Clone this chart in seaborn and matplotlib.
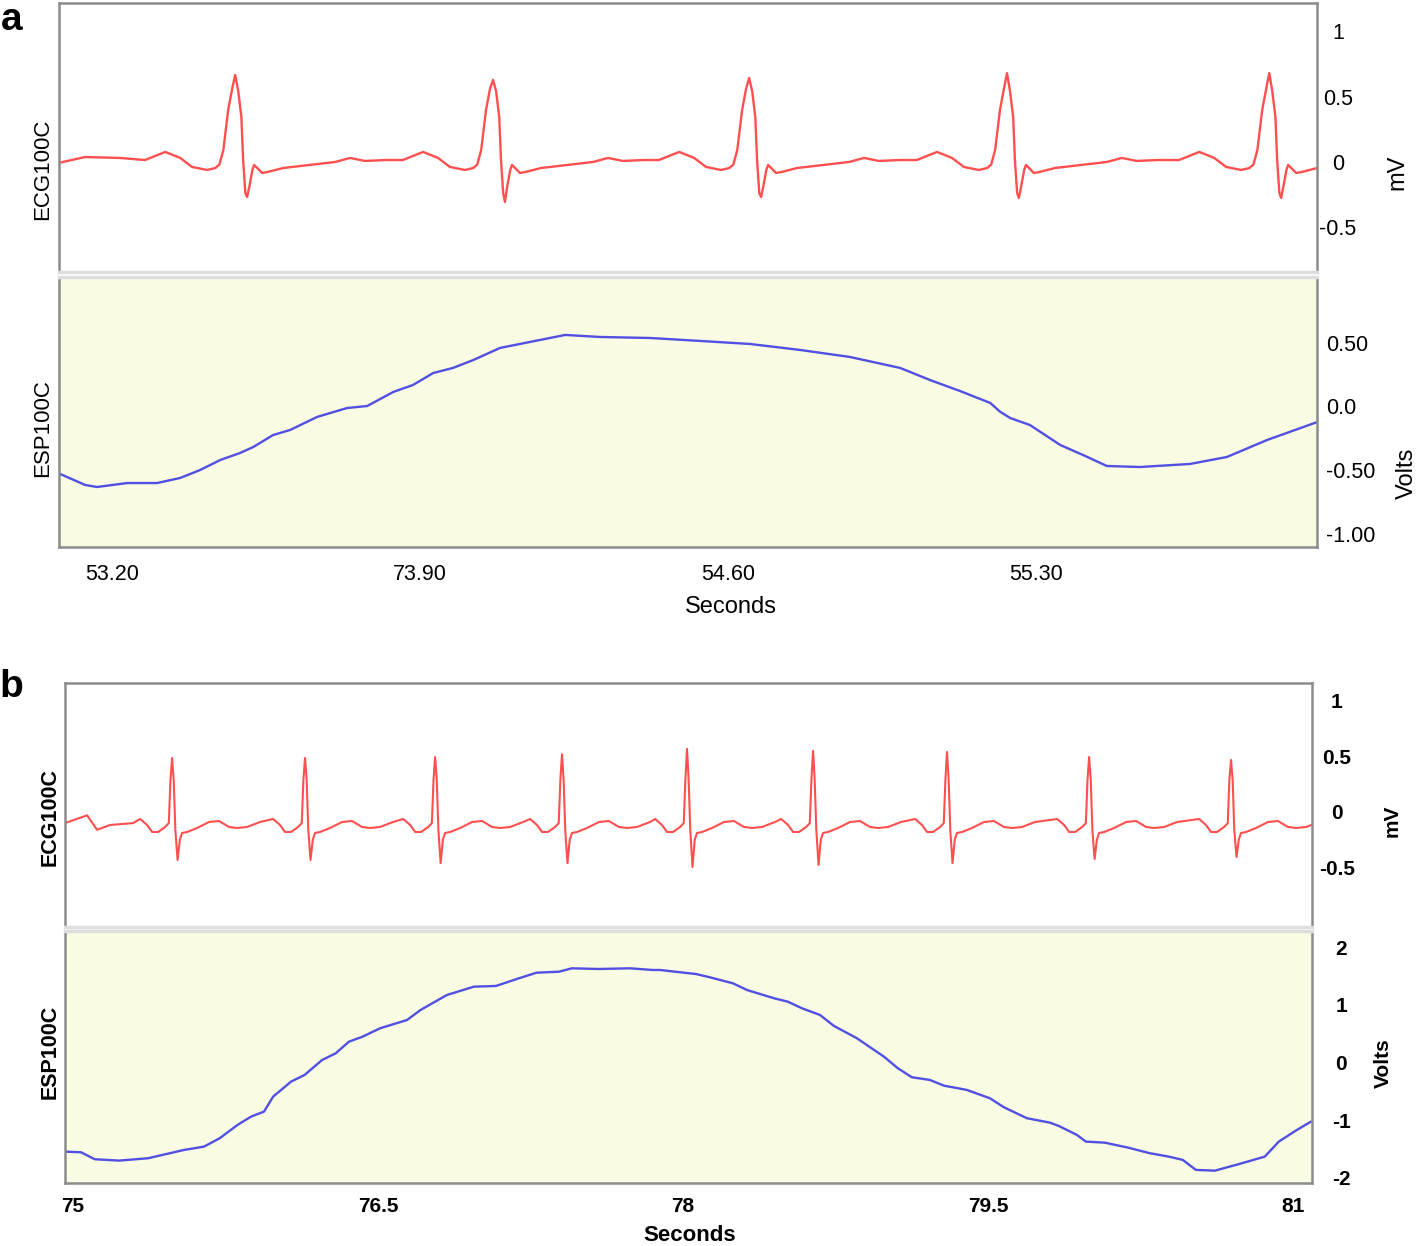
import pandas as pd
import seaborn as sns
import matplotlib.pyplot as plt

# ---------------- panel a ----------------
# R-peak times (s) and R / S amplitudes (mV) of each beat
ecg_a_beats = [53.480, 54.066, 54.648, 55.234, 55.830]
ecg_a_r = [0.666, 0.628, 0.643, 0.680, 0.680]
ecg_a_s = [-0.268, -0.306, -0.268, -0.275, -0.275]
# one beat: offset from R peak (s) and value (mV)
ecg_a_offsets = [-0.205, -0.159, -0.125, -0.098, -0.064, -0.045, -0.036, -0.027, -0.016, -0.007,
                 0.0, 0.007, 0.014, 0.018, 0.023, 0.027, 0.032, 0.039, 0.043, 0.050,
                 0.061, 0.073, 0.109, 0.150, 0.190, 0.227, 0.261, 0.295, 0.341, 0.375]
ecg_a_shape = [0.015, 0.077, 0.031, -0.038, -0.061, -0.046, -0.020, 0.092, 0.398, 0.56,
               'R', 0.54, 0.344, 0.015, -0.237, 'S', -0.191, -0.061, -0.023, -0.046,
               -0.084, -0.077, -0.046, -0.030, -0.015, 0.0, 0.031, 0.008, 0.015, 0.015]
ecg_a_lead_t = [53.077, 53.139, 53.218]
ecg_a_lead_v = [-0.008, 0.038, 0.031]

esp_a_t = [53.077, 53.139, 53.166, 53.234, 53.302, 53.355, 53.400, 53.446, 53.491, 53.521,
           53.566, 53.605, 53.666, 53.734, 53.780, 53.839, 53.884, 53.930, 53.975, 54.021,
           54.082, 54.150, 54.230, 54.309, 54.423, 54.536, 54.650, 54.764, 54.877, 54.991,
           55.059, 55.127, 55.196, 55.218, 55.241, 55.286, 55.355, 55.407, 55.461, 55.536,
           55.650, 55.734, 55.825, 55.939]
esp_a_v = [-0.523, -0.617, -0.633, -0.602, -0.602, -0.562, -0.500, -0.421, -0.366, -0.319,
           -0.225, -0.185, -0.083, -0.013, 0.003, 0.113, 0.168, 0.262, 0.302, 0.364,
           0.459, 0.506, 0.561, 0.545, 0.537, 0.514, 0.490, 0.443, 0.388, 0.302,
           0.207, 0.121, 0.027, -0.041, -0.091, -0.146, -0.303, -0.382, -0.468, -0.476,
           -0.452, -0.397, -0.264, -0.123]

xticks_a = [53.2, 53.9, 54.6, 55.3]
xlabels_a = ['53.20', '73.90', '54.60', '55.30']
ecg_ticks_a = [1, 0.5, 0, -0.5]
ecg_labels_a = ['1', '0.5', '0', '-0.5']
esp_ticks_a = [0.5, 0.0, -0.5, -1.0]
esp_labels_a = ['0.50', '0.0', '-0.50', '-1.00']

# ---------------- panel b ----------------
ecg_b_beats = [75.487, 76.141, 76.781, 77.405, 78.020, 78.640, 79.299, 79.998, 80.696]
ecg_b_r = [0.486, 0.486, 0.495, 0.520, 0.568, 0.550, 0.540, 0.495, 0.468]
ecg_b_s = [-0.432, -0.432, -0.460, -0.460, -0.495, -0.477, -0.460, -0.423, -0.405]
ecg_b_offsets = [-0.157, -0.123, -0.098, -0.069, -0.034, -0.016, -0.008, 0.0, 0.008, 0.016,
                 0.027, 0.038, 0.049, 0.074, 0.123, 0.182, 0.231, 0.280, 0.320, 0.369, 0.433]
ecg_b_shape = [-0.063, -0.117, -0.180, -0.180, -0.135, -0.100, 0.29, 'R', 0.29, -0.16,
               'S', -0.25, -0.189, -0.180, -0.144, -0.090, -0.081, -0.135, -0.144, -0.135, -0.090]
ecg_b_lead_t = [74.960, 75.069, 75.118, 75.182, 75.295]
ecg_b_lead_v = [-0.100, -0.030, -0.160, -0.117, -0.100]

esp_b_t = [74.964, 75.039, 75.106, 75.226, 75.369, 75.546, 75.644, 75.721, 75.809, 75.875,
           75.939, 75.984, 76.072, 76.139, 76.225, 76.292, 76.357, 76.424, 76.510, 76.643,
           76.709, 76.839, 76.972, 77.080, 77.193, 77.280, 77.390, 77.454, 77.587, 77.740,
           77.851, 77.887, 78.064, 78.133, 78.246, 78.315, 78.448, 78.516, 78.585, 78.674,
           78.743, 78.856, 78.989, 79.057, 79.126, 79.215, 79.284, 79.397, 79.510, 79.579,
           79.692, 79.805, 79.849, 79.938, 79.982, 80.075, 80.189, 80.297, 80.390, 80.459,
           80.523, 80.617, 80.750, 80.862, 80.931, 81.020, 81.089]
esp_b_v = [-1.545, -1.555, -1.676, -1.700, -1.659, -1.515, -1.458, -1.313, -1.082, -0.939,
           -0.852, -0.592, -0.332, -0.216, 0.043, 0.159, 0.360, 0.447, 0.592, 0.736,
           0.909, 1.169, 1.313, 1.325, 1.458, 1.555, 1.572, 1.631, 1.619, 1.631,
           1.602, 1.602, 1.532, 1.475, 1.371, 1.255, 1.112, 1.053, 0.939, 0.823,
           0.632, 0.419, 0.100, -0.100, -0.256, -0.303, -0.402, -0.476, -0.620, -0.776,
           -0.966, -1.042, -1.100, -1.255, -1.371, -1.389, -1.475, -1.572, -1.631, -1.688,
           -1.861, -1.874, -1.745, -1.631, -1.371, -1.169, -1.025]

xticks_b = [75, 76.5, 78, 79.5, 81]
xlabels_b = ['75', '76.5', '78', '79.5', '81']
ecg_ticks_b = [1, 0.5, 0, -0.5]
ecg_labels_b = ['1', '0.5', '0', '-0.5']
esp_ticks_b = [2, 1, 0, -1, -2]
esp_labels_b = ['2', '1', '0', '-1', '-2']


def ecg_trace(beats, r_amp, s_amp, offsets, shape, lead_t, lead_v):
    t, v = list(lead_t), list(lead_v)
    for bt, r, s in zip(beats, r_amp, s_amp):
        for off, val in zip(offsets, shape):
            if val == 'R':
                val = r
            elif val == 'S':
                val = s
            t.append(bt + off)
            v.append(val)
    return pd.DataFrame({'t': t, 'v': v}).sort_values('t')


sns.set_style('white')
plt.rcParams['font.family'] = ['Liberation Sans', 'DejaVu Sans']
plt.rcParams['text.color'] = 'black'
plt.rcParams['axes.labelcolor'] = 'black'
plt.rcParams['xtick.color'] = 'black'
plt.rcParams['ytick.color'] = 'black'

RED = '#ff4f4f'
BLUE = '#5050e2'
GRAY = '#8c8c8c'
LIGHT = '#dedede'
YELLOW = '#fafbe3'

fig = plt.figure(figsize=(14.18, 12.46), dpi=100)
ax_ecg_a = fig.add_axes([0.0416, 0.7817, 0.8872, 0.2159])
ax_esp_a = fig.add_axes([0.0416, 0.5610, 0.8872, 0.2167])
ax_ecg_b = fig.add_axes([0.0458, 0.2560, 0.8794, 0.1958])
ax_esp_b = fig.add_axes([0.0458, 0.0506, 0.8794, 0.2022])

ecg_a = ecg_trace(ecg_a_beats, ecg_a_r, ecg_a_s, ecg_a_offsets, ecg_a_shape, ecg_a_lead_t, ecg_a_lead_v)
ecg_b = ecg_trace(ecg_b_beats, ecg_b_r, ecg_b_s, ecg_b_offsets, ecg_b_shape, ecg_b_lead_t, ecg_b_lead_v)
esp_a = pd.DataFrame({'t': esp_a_t, 'v': esp_a_v})
esp_b = pd.DataFrame({'t': esp_b_t, 'v': esp_b_v})

sns.lineplot(data=ecg_a, x='t', y='v', ax=ax_ecg_a, color=RED, lw=1.7, estimator=None)
sns.lineplot(data=esp_a, x='t', y='v', ax=ax_esp_a, color=BLUE, lw=1.7, estimator=None)
sns.lineplot(data=ecg_b, x='t', y='v', ax=ax_ecg_b, color=RED, lw=1.5, estimator=None)
sns.lineplot(data=esp_b, x='t', y='v', ax=ax_esp_b, color=BLUE, lw=1.7, estimator=None)

ax_ecg_a.set_xlim(53.0795, 55.9386)
ax_esp_a.set_xlim(53.0795, 55.9386)
ax_ecg_a.set_ylim(-0.842, 1.217)
ax_esp_a.set_ylim(-1.104, 1.016)
ax_ecg_b.set_xlim(74.96, 81.094)
ax_esp_b.set_xlim(74.96, 81.094)
ax_ecg_b.set_ylim(-1.035, 1.16)
ax_esp_b.set_ylim(-2.087, 2.277)


def frame(ax_top, ax_bot):
    for ax in (ax_top, ax_bot):
        ax.set_xlabel('')
        ax.set_ylabel('')
        ax.yaxis.tick_right()
        for side in ('left', 'right', 'top', 'bottom'):
            ax.spines[side].set_visible(True)
            ax.spines[side].set_color(GRAY)
            ax.spines[side].set_linewidth(1.8)
    ax_top.spines['bottom'].set_color(LIGHT)
    ax_top.spines['bottom'].set_linewidth(2.5)
    ax_bot.spines['top'].set_color(LIGHT)
    ax_bot.spines['top'].set_linewidth(2.5)
    ax_top.tick_params(axis='x', bottom=False, labelbottom=False)
    ax_bot.set_facecolor(YELLOW)


frame(ax_ecg_a, ax_esp_a)
frame(ax_ecg_b, ax_esp_b)

# panel a ticks and labels
ax_ecg_a.set_yticks(ecg_ticks_a, labels=ecg_labels_a, ha='center', fontsize=15.5)
ax_ecg_a.tick_params(axis='y', length=0, pad=15)
ax_esp_a.set_yticks(esp_ticks_a, labels=esp_labels_a, ha='left', fontsize=15.5)
ax_esp_a.tick_params(axis='y', length=0, pad=6.5)
ax_esp_a.set_xticks(xticks_a, labels=xlabels_a, fontsize=15.5)
ax_esp_a.tick_params(axis='x', length=0, pad=12)
ax_esp_a.set_xlabel('Seconds', fontsize=17, va='center')
ax_esp_a.xaxis.set_label_coords(0.534, -0.222)

ax_ecg_a.text(-0.0127, 0.383, 'ECG100C', transform=ax_ecg_a.transAxes, rotation=90,
              ha='center', va='center', fontsize=16)
ax_ecg_a.text(1.0636, 0.372, 'mV', transform=ax_ecg_a.transAxes, rotation=90,
              ha='center', va='center', fontsize=17)
ax_esp_a.text(-0.0127, 0.44, 'ESP100C', transform=ax_esp_a.transAxes, rotation=90,
              ha='center', va='center', fontsize=16)
ax_esp_a.text(1.0715, 0.274, 'Volts', transform=ax_esp_a.transAxes, rotation=90,
              ha='center', va='center', fontsize=17)

# panel b ticks and labels (bold)
ax_ecg_b.set_yticks(ecg_ticks_b, labels=ecg_labels_b, ha='center', fontsize=15, fontweight='bold')
ax_ecg_b.tick_params(axis='y', length=0, pad=18)
ax_esp_b.set_yticks(esp_ticks_b, labels=esp_labels_b, ha='center', fontsize=15, fontweight='bold')
ax_esp_b.tick_params(axis='y', length=0, pad=21)
ax_esp_b.set_xticks(xticks_b, labels=xlabels_b, fontsize=15, fontweight='bold')
ax_esp_b.tick_params(axis='x', length=0, pad=10)
ax_esp_b.set_xlabel('Seconds', fontsize=16, fontweight='bold', va='center')
ax_esp_b.xaxis.set_label_coords(0.501, -0.21)

ax_ecg_b.text(-0.012, 0.449, 'ECG100C', transform=ax_ecg_b.transAxes, rotation=90,
              ha='center', va='center', fontsize=15.5, fontweight='bold')
ax_ecg_b.text(1.0642, 0.434, 'mV', transform=ax_ecg_b.transAxes, rotation=90,
              ha='center', va='center', fontsize=15, fontweight='bold')
ax_esp_b.text(-0.012, 0.52, 'ESP100C', transform=ax_esp_b.transAxes, rotation=90,
              ha='center', va='center', fontsize=15.5, fontweight='bold')
ax_esp_b.text(1.057, 0.476, 'Volts', transform=ax_esp_b.transAxes, rotation=90,
              ha='center', va='center', fontsize=15, fontweight='bold')

# panel letters
fig.text(0.0085, 0.984, 'a', fontsize=28, fontweight='bold', ha='center', va='center')
fig.text(0.0078, 0.449, 'b', fontsize=28, fontweight='bold', ha='center', va='center')

fig.savefig('out.png', dpi=100)
